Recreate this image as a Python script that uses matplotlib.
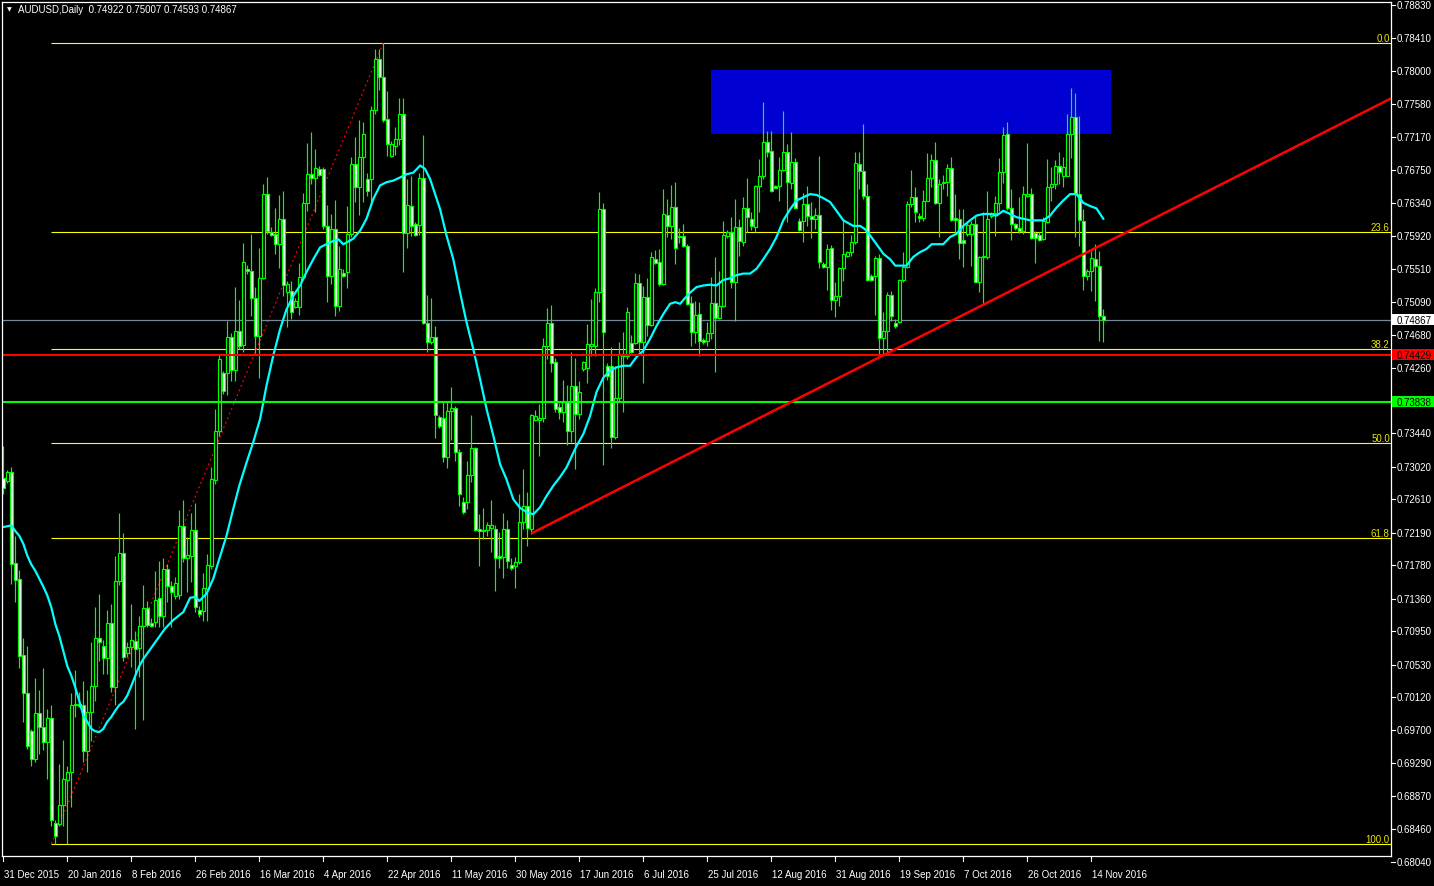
import matplotlib
matplotlib.use("Agg")
import matplotlib.pyplot as plt
from matplotlib.patches import Rectangle
from matplotlib.transforms import blended_transform_factory
import numpy as np

plt.rcParams['font.family'] = ['Liberation Sans', 'DejaVu Sans']

# ---------------- data ----------------
symbol_text = "AUDUSD,Daily  0.74922 0.75007 0.74593 0.74867"

opens = [
 .7288,.7284,.7295,.7181,.7161,.7065,.7017,.6969,.6934,.6992,
 .6974,.6955,.6986,.6854,.6852,.6876,.6908,.6918,.7002,.7003,
 .7002,.6944,.6993,.7026,.7086,.7076,.7061,.7105,.7025,.7158,
 .7193,.7068,.7075,.7083,.7074,.7102,.7124,.7105,.7107,.7137,
 .7114,.7173,.7152,.7139,.7140,.7227,.7187,.7190,.7222,.7122,
 .7120,.7148,.7177,.7285,.7347,.7420,.7420,.7465,.7424,.7473,
 .7455,.7551,.7548,.7514,.7466,.7540,.7645,.7597,.7595,.7582,
 .7614,.7522,.7523,.7503,.7503,.7541,.7634,.7670,.7665,.7677,
 .7677,.7605,.7542,.7601,.7504,.7546,.7547,.7595,.7683,.7654,
 .7692,.7664,.7664,.7751,.7815,.7792,.7740,.7693,.7706,.7714,
 .7746,.7596,.7630,.7607,.7606,.7665,.7483,.7459,.7465,.7364,
 .7363,.7314,.7372,.7376,.7320,.7258,.7258,.7291,.7326,.7224,
 .7222,.7222,.7225,.7224,.7190,.7188,.7224,.7178,.7177,.7182,
 .7232,.7253,.7224,.7361,.7361,.7363,.7454,.7483,.7434,.7377,
 .7371,.7383,.7347,.7404,.7368,.7425,.7426,.7454,.7454,.7522,
 .7626,.7429,.7429,.7339,.7388,.7441,.7441,.7458,.7458,.7533,
 .7459,.7516,.7480,.7563,.7560,.7532,.7619,.7605,.7629,.7592,
 .7592,.7580,.7508,.7471,.7494,.7461,.7460,.7470,.7508,.7489,
 .7504,.7592,.7597,.7534,.7604,.7585,.7628,.7614,.7604,.7655,
 .7668,.7711,.7699,.7655,.7655,.7675,.7698,.7659,.7685,.7611,
 .7611,.7633,.7617,.7614,.7619,.7557,.7553,.7577,.7512,.7517,
 .7552,.7567,.7572,.7585,.7683,.7674,.7643,.7542,.7542,.7565,
 .7464,.7473,.7518,.7483,.7484,.7537,.7553,.7633,.7642,.7617,
 .7615,.7636,.7665,.7688,.7634,.7659,.7660,.7678,.7615,.7614,
 .7587,.7595,.7595,.7607,.7534,.7566,.7566,.7618,.7621,.7634,
 .7673,.7721,.7628,.7607,.7602,.7599,.7643,.7645,.7596,.7594,
 .7589,.7610,.7654,.7658,.7680,.7668,.7668,.7721,.7742,.7645,
 .7611,.7542,.7548,.7563,.7555,.74922]

highs = [
 .7328,.7298,.7302,.7215,.7172,.7086,.7076,.6972,.7036,.7021,
 .7049,.6997,.7002,.6857,.6928,.6958,.6925,.7017,.7046,.7018,
 .7032,.7021,.7081,.7125,.7142,.7084,.7122,.7129,.7190,.7244,
 .7219,.7081,.7129,.7095,.7114,.7153,.7133,.7112,.7171,.7183,
 .7187,.7180,.7158,.7163,.7247,.7260,.7213,.7244,.7256,.7127,
 .7168,.7192,.7302,.7375,.7444,.7422,.7485,.7470,.7528,.7512,
 .7584,.7556,.7595,.7528,.7577,.7658,.7667,.7604,.7628,.7644,
 .7649,.7536,.7536,.7514,.7558,.7647,.7709,.7723,.7702,.7680,
 .7679,.7631,.7620,.7638,.7580,.7551,.7630,.7692,.7717,.7738,
 .7736,.7672,.7756,.7828,.7828,.7835,.7775,.7712,.7730,.7766,
 .7766,.7664,.7668,.7610,.7672,.7719,.7518,.7514,.7479,.7367,
 .7383,.7383,.7402,.7378,.7324,.7264,.7309,.7367,.7327,.7242,
 .7250,.7232,.7260,.7229,.7220,.7244,.7235,.7187,.7188,.7268,
 .7299,.7270,.7368,.7373,.7381,.7464,.7502,.7505,.7439,.7382,
 .7411,.7405,.7446,.7439,.7410,.7435,.7482,.7513,.7527,.7648,
 .7634,.7433,.7453,.7429,.7459,.7471,.7503,.7468,.7546,.7545,
 .7529,.7540,.7572,.7575,.7576,.7652,.7639,.7657,.7660,.7602,
 .7607,.7582,.7517,.7510,.7509,.7464,.7484,.7541,.7566,.7548,
 .7611,.7600,.7616,.7639,.7614,.7641,.7665,.7623,.7657,.7689,
 .7761,.7725,.7725,.7657,.7692,.7750,.7708,.7723,.7690,.7615,
 .7647,.7655,.7635,.7628,.7693,.7560,.7582,.7581,.7534,.7553,
 .7614,.7574,.7594,.7698,.7698,.7733,.7658,.7545,.7567,.7570,
 .7497,.7522,.7523,.7488,.7538,.7572,.7636,.7675,.7654,.7621,
 .7650,.7697,.7696,.7711,.7664,.7669,.7683,.7692,.7645,.7626,
 .7626,.7610,.7611,.7617,.7567,.7623,.7649,.7623,.7643,.7690,
 .7730,.7736,.7652,.7609,.7641,.7655,.7709,.7653,.7599,.7597,
 .7616,.7689,.7679,.7688,.7698,.7692,.7746,.7779,.7772,.7743,
 .7626,.7551,.7574,.7582,.7573,.75007]

lows = [
 .7268,.7282,.7154,.7132,.7049,.6981,.6947,.6925,.6930,.6940,
 .6945,.6909,.6850,.6827,.6850,.6850,.6827,.6874,.6987,.6999,
 .6930,.6918,.6957,.7007,.7057,.7041,.7041,.7018,.7002,.7153,
 .7057,.7062,.7050,.6972,.7037,.6983,.7100,.7100,.7100,.7100,
 .7100,.7132,.7100,.7135,.7135,.7182,.7144,.7157,.7119,.7113,
 .7108,.7108,.7173,.7280,.7341,.7393,.7392,.7410,.7410,.7450,
 .7446,.7545,.7492,.7445,.7414,.7538,.7595,.7592,.7570,.7552,
 .7517,.7478,.7488,.7502,.7493,.7538,.7624,.7658,.7623,.7668,
 .7601,.7509,.7532,.7492,.7498,.7541,.7527,.7591,.7635,.7619,
 .7635,.7643,.7630,.7746,.7776,.7736,.7693,.7692,.7694,.7707,
 .7547,.7577,.7592,.7592,.7594,.7482,.7446,.7456,.7338,.7351,
 .7308,.7300,.7336,.7309,.7253,.7242,.7249,.7283,.7221,.7177,
 .7211,.7215,.7195,.7146,.7175,.7162,.7175,.7172,.7149,.7180,
 .7224,.7202,.7217,.7360,.7315,.7358,.7438,.7421,.7371,.7362,
 .7358,.7329,.7333,.7299,.7362,.7422,.7407,.7441,.7441,.7509,
 .7304,.7411,.7326,.7337,.7383,.7371,.7438,.7445,.7456,.7446,
 .7407,.7466,.7479,.7557,.7529,.7531,.7591,.7589,.7557,.7584,
 .7578,.7505,.7454,.7458,.7441,.7456,.7454,.7463,.7421,.7488,
 .7503,.7590,.7527,.7485,.7567,.7580,.7597,.7600,.7597,.7623,
 .7664,.7692,.7648,.7653,.7636,.7674,.7610,.7652,.7626,.7599,
 .7585,.7605,.7590,.7601,.7552,.7552,.7524,.7499,.7490,.7504,
 .7536,.7566,.7567,.7582,.7652,.7639,.7536,.7536,.7493,.7441,
 .7444,.7446,.7485,.7477,.7483,.7534,.7552,.7629,.7610,.7610,
 .7611,.7638,.7654,.7633,.7591,.7651,.7643,.7611,.7595,.7563,
 .7553,.7592,.7555,.7534,.7522,.7507,.7563,.7615,.7592,.7624,
 .7659,.7625,.7587,.7600,.7596,.7595,.7642,.7589,.7558,.7586,
 .7587,.7609,.7636,.7652,.7658,.7654,.7668,.7690,.7591,.7580,
 .7524,.7537,.7523,.7510,.7460,.74593]

closes = [
 .7275,.7295,.7180,.7159,.7064,.7017,.6950,.6934,.6992,.6974,
 .6955,.6986,.6857,.6837,.6876,.6909,.6918,.7002,.7003,.7001,
 .6944,.6993,.7026,.7086,.7081,.7061,.7105,.7025,.7158,.7193,
 .7062,.7075,.7084,.7073,.7102,.7124,.7103,.7102,.7134,.7114,
 .7173,.7152,.7144,.7156,.7227,.7187,.7191,.7222,.7125,.7117,
 .7149,.7178,.7287,.7347,.7438,.7397,.7465,.7424,.7473,.7454,
 .7560,.7548,.7514,.7466,.7540,.7645,.7599,.7594,.7582,.7614,
 .7531,.7532,.7497,.7510,.7541,.7634,.7670,.7665,.7678,.7669,
 .7605,.7542,.7601,.7504,.7551,.7542,.7595,.7683,.7654,.7692,
 .7721,.7649,.7751,.7815,.7792,.7738,.7708,.7708,.7714,.7746,
 .7596,.7631,.7605,.7594,.7665,.7483,.7459,.7465,.7367,.7353,
 .7314,.7372,.7376,.7320,.7268,.7245,.7291,.7326,.7222,.7221,
 .7221,.7229,.7229,.7187,.7187,.7224,.7183,.7175,.7182,.7232,
 .7253,.7225,.7367,.7366,.7363,.7454,.7483,.7433,.7375,.7371,
 .7383,.7347,.7404,.7368,.7396,.7434,.7456,.7456,.7522,.7626,
 .7471,.7416,.7339,.7388,.7444,.7444,.7497,.7446,.7533,.7459,
 .7516,.7480,.7566,.7558,.7532,.7620,.7605,.7629,.7577,.7591,
 .7580,.7507,.7471,.7493,.7460,.7459,.7470,.7508,.7489,.7504,
 .7594,.7597,.7534,.7604,.7586,.7628,.7616,.7605,.7655,.7668,
 .7711,.7698,.7649,.7653,.7675,.7698,.7660,.7685,.7628,.7600,
 .7633,.7617,.7614,.7619,.7560,.7553,.7576,.7512,.7517,.7552,
 .7570,.7572,.7585,.7684,.7674,.7643,.7537,.7537,.7565,.7464,
 .7473,.7518,.7492,.7479,.7537,.7553,.7633,.7642,.7622,.7615,
 .7636,.7665,.7688,.7634,.7658,.7660,.7678,.7612,.7612,.7584,
 .7584,.7606,.7607,.7534,.7566,.7567,.7614,.7621,.7634,.7673,
 .7719,.7628,.7607,.7602,.7599,.7645,.7645,.7590,.7590,.7587,
 .7611,.7654,.7658,.7680,.7673,.7679,.7721,.7742,.7645,.7612,
 .7542,.7548,.7565,.7555,.7492,.74867]

date_labels = ["31 Dec 2015", "20 Jan 2016", "8 Feb 2016", "26 Feb 2016",
               "16 Mar 2016", "4 Apr 2016", "22 Apr 2016", "11 May 2016",
               "30 May 2016", "17 Jun 2016", "6 Jul 2016", "25 Jul 2016",
               "12 Aug 2016", "31 Aug 2016", "19 Sep 2016", "7 Oct 2016",
               "26 Oct 2016", "14 Nov 2016"]
date_step = 16

# moving average (cyan): bar position / value
ma_x = list(range(37)) + [
 40.4, 42.5, 45, 46.7, 48, 49, 50.8, 52.5, 54, 55.8, 57.5, 59, 60.8, 62.5, 64.2, 65.8,
 67.5, 69.2, 70.8, 72.5, 74.2, 75.8, 77.5, 79.2, 80.8, 82.5, 83.8, 85, 85.8, 87.5,
 89.2, 90.8, 92.5, 94.2, 95.8, 97.5, 99.2, 100.8, 102.5, 104.2, 105.4, 106.7, 109.2,
 110.8, 112.5, 114.2, 115.8, 117.5, 119.2, 120.8, 122.5, 124.2, 125.8, 127.5, 129.2,
 130.8, 132.5, 134.2, 135.8, 137.5, 139.2, 140.8, 143.3, 145, 146.7, 148.3, 150,
 151.7, 153.3, 155, 156.7, 158.3, 160, 161.7, 163.3, 165, 166.7, 168, 169.2, 170.4,
 171.7, 173.3, 175, 176.7, 178.3, 180, 181.7, 183.3, 185, 186.7, 188.3, 190, 191.7,
 193.3, 195, 196.7, 198.3, 200, 201.7, 203.3, 205, 206.7, 208.3, 210, 212.5, 214.2,
 215.4, 216.7, 218.3, 220, 221.7, 223, 225.8, 227.5, 229.2, 230.8, 232.1, 235, 236.7,
 238.3, 240, 241.7, 243.3, 245, 246.7, 248.3, 250, 251.7, 253.3, 255, 256.7, 258.3,
 260, 261.7, 263.3, 265, 266.7, 268.3, 270, 271.7, 273.3, 275]
ma_p = [
 .7226,.7227,.7228,.7221,.7215,.7205,.7190,.7179,.7171,.7161,.7151,.7140,.7125,.7104,
 .7089,.7070,.7051,.7039,.7024,.7007,.6989,.6981,.6972,.6969,.6968,.6972,.6981,.6987,
 .6995,.7002,.7006,.7014,.7026,.7039,.7051,.7060,.7067,
 .7098,.7109,.7119,.7137,.7138,.7133,.7142,.7161,.7186,.7215,.7249,.7278,.7307,.7333,
 .7362,.7404,.7442,.7475,.7500,.7517,.7530,.7547,.7563,.7578,.7582,.7586,.7588,.7582,
 .7584,.7589,.7599,.7614,.7639,.7656,.7660,.7662,.7666,.7670,.7672,.7681,.7677,.7664,
 .7626,.7593,.7563,.7521,.7484,.7450,.7412,.7375,.7341,.7305,.7286,.7261,.7250,.7245,
 .7242,.7251,.7265,.7278,.7289,.7301,.7328,.7343,.7366,.7396,.7414,.7423,.7427,.7429,
 .7429,.7440,.7448,.7463,.7479,.7494,.7507,.7509,.7507,.7514,.7521,.7528,.7530,.7531,
 .7530,.7537,.7539,.7543,.7545,.7545,.7551,.7563,.7576,.7591,.7612,.7626,.7637,.7641,
 .7645,.7644,.7640,.7635,.7624,.7612,.7605,.7605,.7601,.7593,.7582,.7570,.7563,.7555,
 .7555,.7566,.7572,.7576,.7582,.7582,.7591,.7595,.7605,.7612,.7618,.7620,.7620,.7618,
 .7624,.7620,.7616,.7614,.7612,.7612,.7612,.7618,.7628,.7637,.7645,.7645,.7634,.7630,
 .7627,.7614]

fib_bars = [12, 95]
fib_prices = [0.68272, 0.78352]
fib_levels = [0.0, 23.6, 38.2, 50.0, 61.8, 100.0]
trend_bars = [132, 249]
trend_prices = [0.7218, 0.7516]
red_level = 0.74429
green_level = 0.73838
bid_level = 0.74867
rect_bars = [177, 277]
rect_prices = [0.77207, 0.78012]
price_ticks = [0.78830, 0.78410, 0.78000, 0.77580, 0.77170, 0.76750, 0.76340,
               0.75920, 0.75510, 0.75090, 0.74680, 0.74260, 0.73440, 0.73020,
               0.72610, 0.72190, 0.71780, 0.71360, 0.70950, 0.70530, 0.70120,
               0.69700, 0.69290, 0.68870, 0.68460, 0.68040]

# ---------------- figure ----------------
W, H = 1434, 887
FS = 7
fig = plt.figure(figsize=(W / 100, H / 100), dpi=100, facecolor='black')
PL, PR, PT, PB = 2, 1391, 3, 857
ax = fig.add_axes([PL / W, 1 - PB / H, (PR - PL) / W, (PB - PT) / H])
ax.set_facecolor('black')
xmax = (PR - PL - 1.3) / 4
ax.set_xlim(-0.325, xmax)
ax.set_ylim(0.68120, 0.78868)
ax.set_xticks([])
ax.set_yticks([])
for s in ax.spines.values():
    s.set_color('white')
    s.set_linewidth(0.9)
    s.set_zorder(20)

LIME = '#00ff00'

# rectangle (background)
ax.add_patch(Rectangle((rect_bars[0], rect_prices[0]), rect_bars[1] - rect_bars[0],
                       rect_prices[1] - rect_prices[0], facecolor='#0000d2',
                       edgecolor='none', zorder=1))

# fibonacci
f_lo, f_hi = fib_prices
for lv in fib_levels:
    p = f_hi - (f_hi - f_lo) * lv / 100.0
    ax.hlines(p, fib_bars[0], xmax, color='#ffff00', lw=0.8, zorder=2)
    ax.text(xmax - 0.3, p, f"{lv:.1f}", color='#e6e600', fontsize=FS,
            ha='right', va='bottom', zorder=6)
ax.plot(fib_bars, fib_prices, color='#ff0000', lw=0.9, ls=(0, (1.5, 2.5)), zorder=2)

# bid line
ax.axhline(bid_level, color='#778899', lw=0.9, zorder=2)

# candles
o = np.array(opens); h = np.array(highs); l = np.array(lows); c = np.array(closes)
x = np.arange(len(o))
ax.vlines(x, l, h, color=LIME, lw=0.85, zorder=3)
bull = c >= o
lo = np.minimum(o, c)
hh = np.maximum(np.abs(c - o), 1e-6)
ax.bar(x, hh, bottom=lo, width=0.75, color=np.where(bull, 'black', 'white'),
       edgecolor=LIME, linewidth=0.85, zorder=4)

# moving average
ax.plot(ma_x, ma_p, color='#00ffff', lw=1.6, zorder=5)

# horizontal lines and trend line
ax.axhline(red_level, color='#ff0000', lw=1.5, zorder=6)
ax.axhline(green_level, color='#00ff00', lw=1.5, zorder=6)
slope = (trend_prices[1] - trend_prices[0]) / (trend_bars[1] - trend_bars[0])
tx = np.array([trend_bars[0], xmax + 1])
ax.plot(tx, trend_prices[0] + slope * (tx - trend_bars[0]), color='#ff0000', lw=1.8,
        zorder=6, solid_capstyle='butt')

# right price scale
ktr = blended_transform_factory(fig.transFigure, ax.transData)
pix = (0.78868 - 0.68120) / (PB - PT)
for p in price_ticks:
    ax.plot([PR / W, (PR + 4) / W], [p, p], transform=ktr, color='white', lw=0.8,
            clip_on=False)
    ax.text((PR + 6) / W, p, f"{p:.5f}", transform=ktr, color='white', fontsize=FS,
            ha='left', va='center', clip_on=False)

for lev, fc in [(bid_level, 'white'), (red_level, '#ff0000'), (green_level, '#00ff00')]:
    ax.add_patch(Rectangle(((PR + 1) / W, lev - 5.5 * pix), (W - PR - 1) / W, 11 * pix,
                           transform=ktr, facecolor=fc, edgecolor='none',
                           clip_on=False, zorder=30))
    ax.text((PR + 6) / W, lev, f"{lev:.5f}", transform=ktr, color='black',
            fontsize=FS, ha='left', va='center', clip_on=False, zorder=31)

# bottom date scale
btr = blended_transform_factory(ax.transData, fig.transFigure)
for i, lab in enumerate(date_labels):
    b = i * date_step
    ax.plot([b, b], [1 - PB / H, 1 - (PB + 5) / H], transform=btr, color='white',
            lw=0.8, clip_on=False)
    ax.text(b + 0.2, 1 - 875 / H, lab, transform=btr, color='white', fontsize=FS,
            ha='left', va='center', clip_on=False)

# title
fig.text(9.5 / W, 1 - 9.5 / H, '\u25bc', color='white', fontsize=4.5,
         family='DejaVu Sans', ha='center', va='center')
fig.text(18 / W, 1 - 10 / H, symbol_text, color='white', fontsize=FS,
         ha='left', va='center')

fig.savefig('out.png', dpi=100, facecolor='black')
